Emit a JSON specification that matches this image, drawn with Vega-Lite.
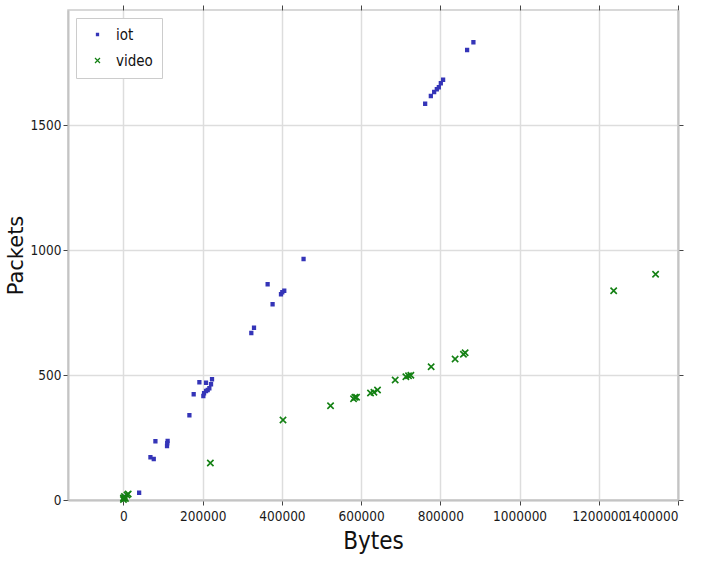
{
  "$schema": "https://vega.github.io/schema/vega-lite/v6.json",
  "width": 610,
  "height": 490,
  "autosize": {"type": "none"},
  "padding": {"left": 68, "top": 10, "right": 31, "bottom": 66},
  "background": "white",
  "config": {
    "view": {"stroke": "#cccccc", "strokeWidth": 1.5},
    "axis": {
      "labelFont": "DejaVu Sans Condensed, Liberation Sans, sans-serif",
      "labelFontSize": 13.5,
      "labelColor": "#1a1a1a",
      "labelOverlap": false,
      "titleColor": "#111111",
      "titleFontWeight": "normal",
      "tickColor": "#444444",
      "tickSize": 5,
      "tickWidth": 1,
      "gridColor": "#dddddd",
      "gridWidth": 1.5,
      "domainColor": "#c4c4c4",
      "domainWidth": 2
    },
    "legend": {
      "orient": "top-left",
      "offset": 8,
      "padding": 9,
      "strokeColor": "#cccccc",
      "fillColor": "white",
      "labelFont": "DejaVu Sans Condensed, Liberation Sans, sans-serif",
      "labelFontSize": 15,
      "labelColor": "#111111",
      "rowPadding": 10,
      "symbolSize": 25,
      "symbolStrokeWidth": 1.2,
      "symbolOffset": 5,
      "labelOffset": 11
    }
  },
  "data": {
    "values": [
      {"type": "iot", "bytes": 1500, "packets": 6},
      {"type": "iot", "bytes": 3000, "packets": 12},
      {"type": "iot", "bytes": 39600, "packets": 29},
      {"type": "iot", "bytes": 68100, "packets": 171},
      {"type": "iot", "bytes": 76500, "packets": 164},
      {"type": "iot", "bytes": 80700, "packets": 235},
      {"type": "iot", "bytes": 110000, "packets": 216},
      {"type": "iot", "bytes": 110500, "packets": 227},
      {"type": "iot", "bytes": 111500, "packets": 236},
      {"type": "iot", "bytes": 166500, "packets": 339},
      {"type": "iot", "bytes": 177300, "packets": 423},
      {"type": "iot", "bytes": 191700, "packets": 471},
      {"type": "iot", "bytes": 201700, "packets": 416},
      {"type": "iot", "bytes": 203500, "packets": 427},
      {"type": "iot", "bytes": 208500, "packets": 436},
      {"type": "iot", "bytes": 208500, "packets": 469},
      {"type": "iot", "bytes": 212700, "packets": 440},
      {"type": "iot", "bytes": 216900, "packets": 447},
      {"type": "iot", "bytes": 221100, "packets": 463},
      {"type": "iot", "bytes": 223600, "packets": 483},
      {"type": "iot", "bytes": 322800, "packets": 668},
      {"type": "iot", "bytes": 329600, "packets": 689},
      {"type": "iot", "bytes": 364000, "packets": 863},
      {"type": "iot", "bytes": 376500, "packets": 783},
      {"type": "iot", "bytes": 397700, "packets": 823},
      {"type": "iot", "bytes": 401000, "packets": 831},
      {"type": "iot", "bytes": 406000, "packets": 837},
      {"type": "iot", "bytes": 454700, "packets": 964},
      {"type": "iot", "bytes": 761700, "packets": 1585},
      {"type": "iot", "bytes": 776000, "packets": 1616},
      {"type": "iot", "bytes": 784400, "packets": 1632},
      {"type": "iot", "bytes": 791100, "packets": 1643},
      {"type": "iot", "bytes": 796200, "packets": 1651},
      {"type": "iot", "bytes": 801200, "packets": 1667},
      {"type": "iot", "bytes": 807000, "packets": 1681},
      {"type": "iot", "bytes": 867600, "packets": 1800},
      {"type": "iot", "bytes": 883500, "packets": 1831},
      {"type": "video", "bytes": 0, "packets": 2},
      {"type": "video", "bytes": 0, "packets": 8},
      {"type": "video", "bytes": 2500, "packets": 14},
      {"type": "video", "bytes": 5000, "packets": 6},
      {"type": "video", "bytes": 9000, "packets": 20},
      {"type": "video", "bytes": 12000, "packets": 24},
      {"type": "video", "bytes": 219400, "packets": 148},
      {"type": "video", "bytes": 402800, "packets": 320},
      {"type": "video", "bytes": 522800, "packets": 377},
      {"type": "video", "bytes": 580900, "packets": 405},
      {"type": "video", "bytes": 584300, "packets": 411},
      {"type": "video", "bytes": 588400, "packets": 411},
      {"type": "video", "bytes": 623700, "packets": 428},
      {"type": "video", "bytes": 632300, "packets": 431},
      {"type": "video", "bytes": 641400, "packets": 440},
      {"type": "video", "bytes": 686000, "packets": 480},
      {"type": "video", "bytes": 713000, "packets": 493},
      {"type": "video", "bytes": 719700, "packets": 497},
      {"type": "video", "bytes": 725600, "packets": 499},
      {"type": "video", "bytes": 776800, "packets": 533},
      {"type": "video", "bytes": 837300, "packets": 564},
      {"type": "video", "bytes": 858300, "packets": 583},
      {"type": "video", "bytes": 862600, "packets": 589},
      {"type": "video", "bytes": 1237600, "packets": 837},
      {"type": "video", "bytes": 1343400, "packets": 903}
    ]
  },
  "layer": [
    {
      "mark": {"type": "point", "strokeWidth": 1.6, "opacity": 1, "size": 40},
      "encoding": {
        "x": {
          "field": "bytes", "type": "quantitative",
          "scale": {"domain": [-140000, 1400000], "nice": false, "zero": false},
          "axis": {
            "orient": "bottom", "title": "Bytes",
            "values": [0, 200000, 400000, 600000, 800000, 1000000, 1200000, 1400000],
            "format": "d", "labelPadding": 4,
            "titleFont": "DejaVu Sans Condensed, Liberation Sans, sans-serif", "titleFontSize": 24, "titlePadding": 7
          }
        },
        "y": {
          "field": "packets", "type": "quantitative",
          "scale": {"domain": [0, 1960], "nice": false, "zero": false},
          "axis": {
            "orient": "left", "title": "Packets",
            "values": [0, 500, 1000, 1500],
            "format": "d", "labelPadding": 2,
            "titleFont": "DejaVu Sans", "titleFontSize": 21, "titlePadding": 4
          }
        },
        "shape": {
          "field": "type", "type": "nominal",
          "scale": {"domain": ["iot", "video"], "range": ["M-0.42,-0.42H0.42V0.42H-0.42Z", "M-1,-1L1,1M1,-1L-1,1"]},
          "legend": {"title": null}
        },
        "stroke": {
          "field": "type", "type": "nominal",
          "scale": {"domain": ["iot", "video"], "range": ["#3535b8", "#138013"]},
          "legend": {"title": null}
        },
        "fill": {
          "field": "type", "type": "nominal",
          "scale": {"domain": ["iot", "video"], "range": ["#3535b8", "transparent"]},
          "legend": {"title": null}
        }
      }
    },
    {
      "mark": {"type": "point", "opacity": 0},
      "encoding": {
        "x": {
          "field": "bytes", "type": "quantitative",
          "axis": {
            "orient": "top", "title": null, "labels": false, "grid": false, "domain": false,
            "values": [0, 200000, 400000, 600000, 800000, 1000000, 1200000, 1400000]
          }
        },
        "y": {
          "field": "packets", "type": "quantitative",
          "axis": {
            "orient": "right", "title": null, "labels": false, "grid": false, "domain": true,
            "values": [0, 500, 1000, 1500]
          }
        }
      }
    }
  ],
  "resolve": {"axis": {"x": "independent", "y": "independent"}}
}
